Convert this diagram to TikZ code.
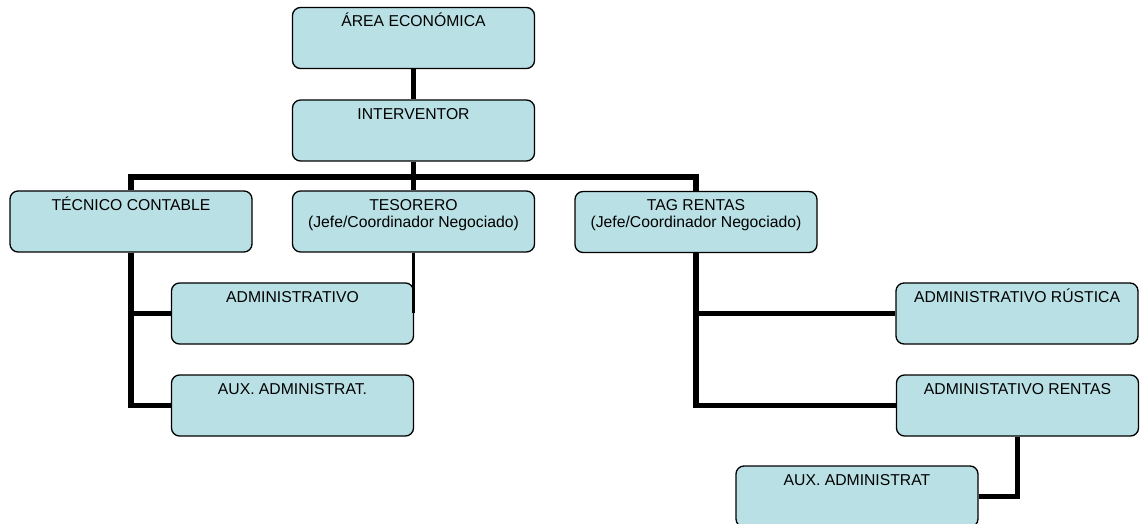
\documentclass[tikz,border=0pt]{standalone}
\usepackage{fontspec}
\setmainfont{Liberation Sans}
\definecolor{boxfill}{RGB}{185,224,228}
\tikzset{
  unit/.style={draw=black, line width=1pt, fill=boxfill, rounded corners=6pt,
    minimum width=181.5pt, minimum height=45.75pt, inner sep=0pt},
  txt/.style={anchor=base, yshift=-15pt, align=center, inner sep=0pt,
    font=\fontsize{11.8}{12.8}\selectfont},
  txttwo/.style={txt, yshift=-12.8pt},
  link/.style={line width=3.8pt, line join=miter},
  thinlink/.style={line width=2.2pt}
}
\begin{document}
\begin{tikzpicture}[x=0.75pt,y=-0.75pt]
\useasboundingbox (0,0) rectangle (1140,524);
\node[unit, label={[txt]north:ÁREA ECONÓMICA}] (area) at (413.5,38) {};
\node[unit, label={[txt]north:INTERVENTOR}] (interv) at (413.5,130.5) {};
\node[unit, label={[txt]north:TÉCNICO CONTABLE}] (tecnico) at (131,221.5) {};
\node[unit, label={[txttwo]north:TESORERO\\(Jefe/Coordinador Negociado)}] (tesorero) at (413.5,221.5) {};
\node[unit, label={[txttwo]north:TAG RENTAS\\(Jefe/Coordinador Negociado)}] (tag) at (696,222) {};
\node[unit, label={[txt]north:ADMINISTRATIVO}] (adm) at (292.5,313.5) {};
\node[unit, label={[txt]north:AUX. ADMINISTRAT.}] (aux1) at (292.5,405.5) {};
\node[unit, label={[txt]north:ADMINISTRATIVO RÚSTICA}] (rustica) at (1017,313.5) {};
\node[unit, label={[txt]north:ADMINISTATIVO RENTAS}] (rentas) at (1017.5,405.5) {};
\node[unit, label={[txt]north:AUX. ADMINISTRAT}] (aux2) at (857,496.5) {};
\coordinate (bus) at (413.5,177);
% connectors
\draw[link] (area) -- (interv);
\draw[link] (interv) -- (tesorero);
\draw[link] (tecnico.north) |- (bus) -| (tag.north);
\draw[link] (tecnico.south) |- (adm.west);
\draw[link] (tecnico.south) |- (aux1.west);
\draw[thinlink] (tesorero.south) -- (tesorero.south |- adm.east);
\draw[link] (tag.south) |- (rustica.west);
\draw[link] (tag.south) |- (rentas.west);
\draw[link] (rentas.south) |- (aux2.east);
\end{tikzpicture}
\end{document}
